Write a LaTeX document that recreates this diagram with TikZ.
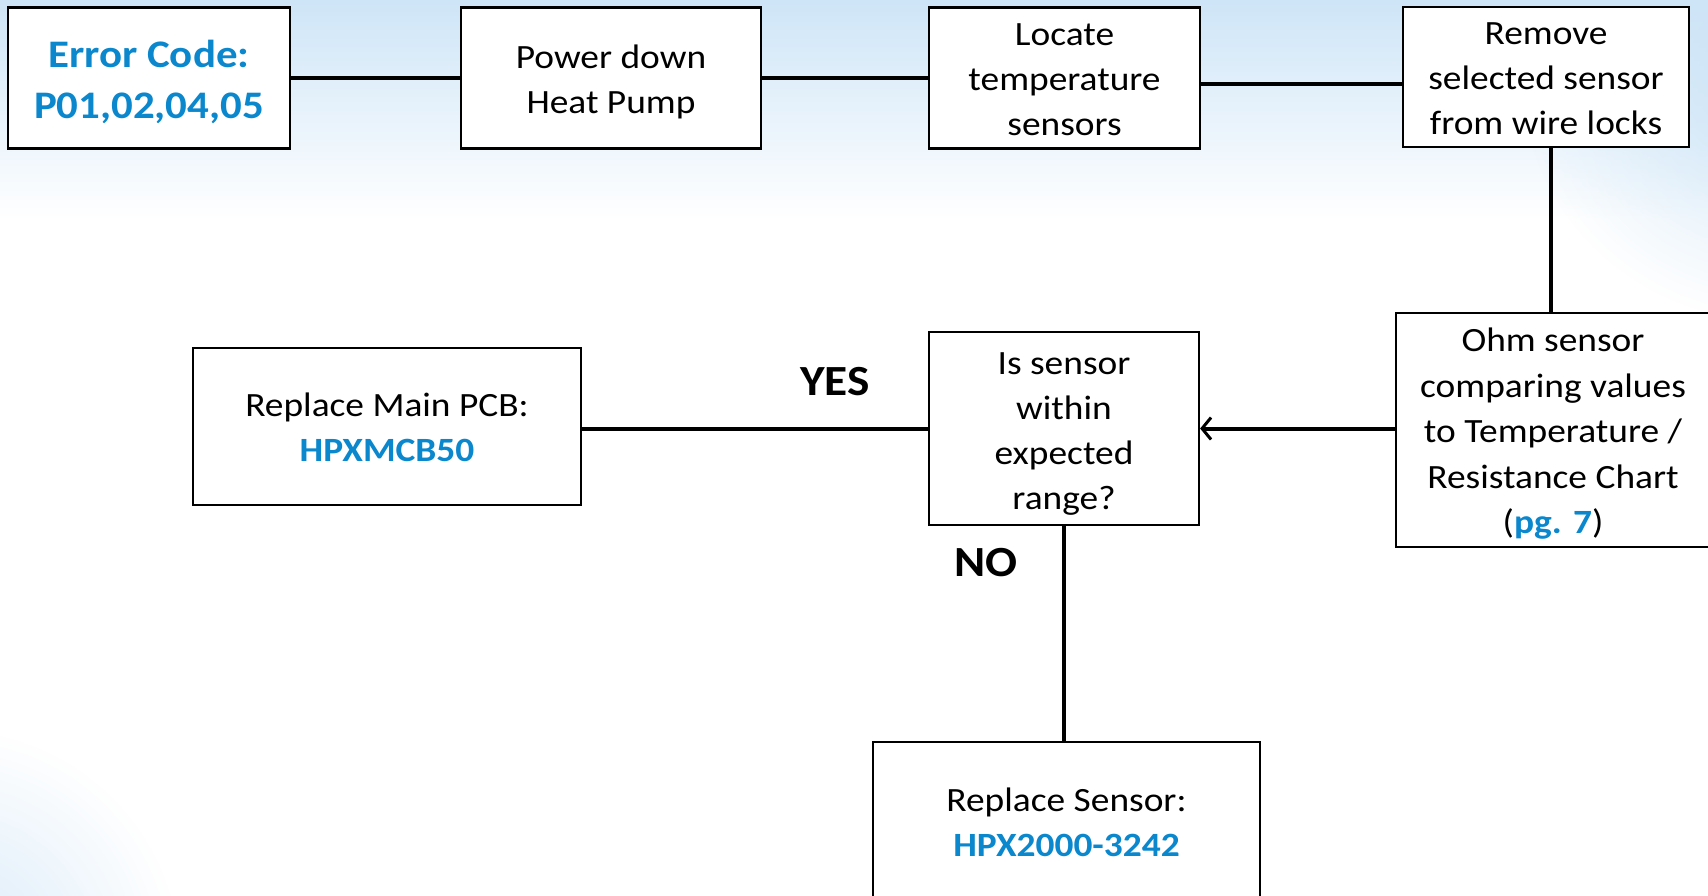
\documentclass[tikz,border=0pt]{standalone}
\usepackage{fontspec}
\setmainfont{Carlito}[FakeStretch=1.1]
\usetikzlibrary{arrows.meta,calc,fadings}
\definecolor{codeblue}{RGB}{10,135,205}
\definecolor{bgblue}{RGB}{206,229,247}
\tikzfading[name=radfade, inner color=transparent!0, outer color=transparent!100]
\tikzset{
  box/.style={draw=black, line width=2.2pt, fill=white, inner sep=0pt},
  txt/.style={align=center, inner sep=0pt, font=\fontsize{34}{45}\selectfont},
  bigtxt/.style={align=center, inner sep=0pt, text=codeblue, font=\bfseries\fontsize{39}{51}\selectfont},
  conn/.style={draw=black, line width=4pt},
  lbl/.style={font=\bfseries\fontsize{43}{48}\selectfont, inner sep=0pt}
}
\newcommand{\bluebold}[1]{\textcolor{codeblue}{\bfseries #1}}
\begin{document}
\begin{tikzpicture}[x=1pt,y=-1pt]
\useasboundingbox (0,0) rectangle (1708,896);
\clip (0,0) rectangle (1708,896);
\fill[white] (0,0) rectangle (1708,896);
\shade[top color=bgblue, bottom color=white] (0,0) rectangle (1708,220);
\fill[bgblue, path fading=radfade] (1770,70) circle (250);
\fill[bgblue!80, path fading=radfade] (-50,960) circle (230);

% boxes
\node[box, minimum width=282pt, minimum height=141pt] (err) at (149,78) {};
\node[box, minimum width=300pt, minimum height=141pt] (pwr) at (611,78) {};
\node[box, minimum width=271pt, minimum height=141pt] (loc) at (1064.5,78) {};
\node[box, minimum width=286pt, minimum height=140pt] (rem) at (1546,77) {};
\node[box, minimum width=314pt, minimum height=234pt] (ohm) at (1553,430) {};
\node[box, minimum width=270pt, minimum height=193pt] (dec) at (1064,428.5) {};
\node[box, minimum width=388pt, minimum height=157pt] (pcb) at (387,426.5) {};
\node[box, minimum width=387pt, minimum height=160pt] (sen) at (1066.5,822) {};

% texts
\node[bigtxt] (errt) at ([yshift=-4pt]err.center) {Error Code:\\P01,02,04,05};
\node[txt] (pwrt) at ([yshift=-3.5pt]pwr.center) {Power down\\Heat Pump};
\node[txt] (loct) at ([yshift=-2pt]loc.center) {Locate\\temperature\\sensors};
\node[txt] (remt) at ([yshift=-2pt]rem.center) {Remove\\selected sensor\\from wire locks};
\node[txt, font=\fontsize{34}{45.5}\selectfont] (ohmt) at ([yshift=-4pt]ohm.center)
  {Ohm sensor\\comparing values\\to Temperature /\\Resistance Chart\\(\bluebold{pg. 7})};
\node[txt] (dect) at ([yshift=-6pt]dec.center) {Is sensor\\within\\expected\\range?};
\node[txt] (pcbt) at ([yshift=-1pt]pcb.center) {Replace Main PCB:\\\bluebold{HPXMCB50}};
\node[txt] (sent) at (sen.center) {Replace Sensor:\\\bluebold{HPX2000-3242}};

\node[lbl] (yes) at (835,382) {YES};
\node[lbl] (no) at (986,563) {NO};

% connectors
\draw[conn] (err.east) -- (pwr.west);
\draw[conn] (pwr.east |- err.east) -- (loc.west |- err.east);
\draw[conn] ([yshift=-6pt]loc.east) -- ([yshift=-6pt]loc.east -| rem.west);
\draw[conn] ([xshift=5pt]rem.south) -- ([xshift=5pt]rem.south |- ohm.north);
\draw[conn, -{Straight Barb[length=9pt,width=22pt,line width=3pt]}] (ohm.west |- dec.east) -- (dec.east);
\draw[conn] (dec.west) -- (dec.west -| pcb.east);
\draw[conn] (dec.south) -- (dec.south |- sen.north);
\end{tikzpicture}
\end{document}
